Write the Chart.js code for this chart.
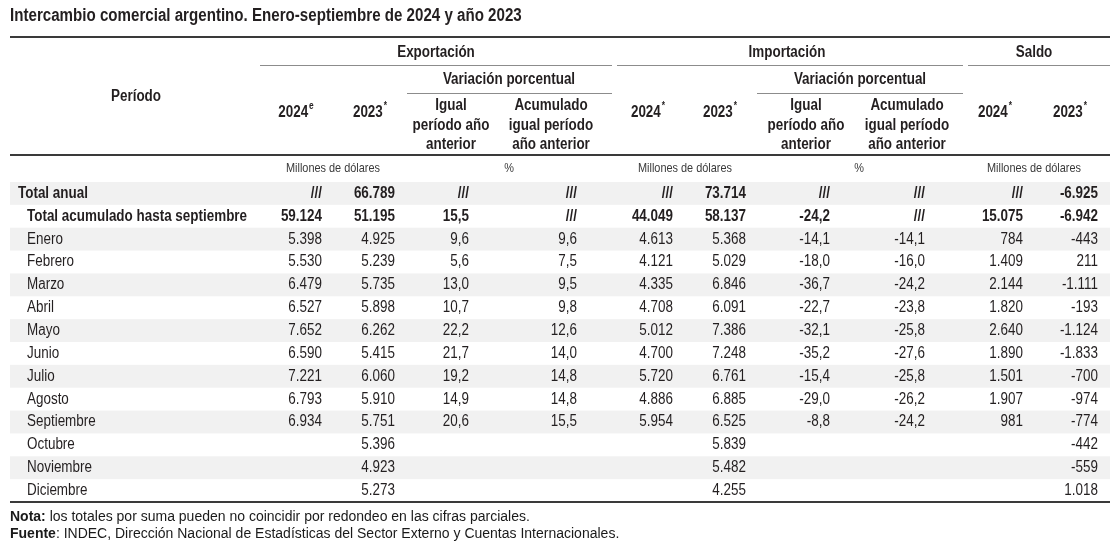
<!DOCTYPE html>
<html lang="es">
<head>
<meta charset="utf-8">
<title>Intercambio comercial argentino</title>
<script src="https://cdn.jsdelivr.net/npm/chart.js@4.4.1/dist/chart.umd.min.js"></script>
<style>
  html, body { margin: 0; padding: 0; background: #fff; }
  #wrap { width: 1112px; height: 547px; }
</style>
</head>
<body>
<div id="wrap"><canvas id="tabla" width="1112" height="547"></canvas></div>
<script>
// Datos del cuadro (millones de dólares y variaciones %)
const periods = ['Total anual', 'Total acumulado hasta septiembre', 'Enero', 'Febrero', 'Marzo', 'Abril',
  'Mayo', 'Junio', 'Julio', 'Agosto', 'Septiembre', 'Octubre', 'Noviembre', 'Diciembre'];

const expo2024 = ['///', 59124, 5398, 5530, 6479, 6527, 7652, 6590, 7221, 6793, 6934, null, null, null];
const expo2023 = [66789, 51195, 4925, 5239, 5735, 5898, 6262, 5415, 6060, 5910, 5751, 5396, 4923, 5273];
const expoVarIgual = ['///', 15.5, 9.6, 5.6, 13.0, 10.7, 22.2, 21.7, 19.2, 14.9, 20.6, null, null, null];
const expoVarAcum = ['///', '///', 9.6, 7.5, 9.5, 9.8, 12.6, 14.0, 14.8, 14.8, 15.5, null, null, null];

const impo2024 = ['///', 44049, 4613, 4121, 4335, 4708, 5012, 4700, 5720, 4886, 5954, null, null, null];
const impo2023 = [73714, 58137, 5368, 5029, 6846, 6091, 7386, 7248, 6761, 6885, 6525, 5839, 5482, 4255];
const impoVarIgual = ['///', -24.2, -14.1, -18.0, -36.7, -22.7, -32.1, -35.2, -15.4, -29.0, -8.8, null, null, null];
const impoVarAcum = ['///', '///', -14.1, -16.0, -24.2, -23.8, -25.8, -27.6, -25.8, -26.2, -24.2, null, null, null];

const saldo2024 = ['///', 15075, 784, 1409, 2144, 1820, 2640, 1890, 1501, 1907, 981, null, null, null];
const saldo2023 = [-6925, -6942, -443, 211, -1111, -193, -1124, -1833, -700, -974, -774, -442, -559, 1018];

const columns = [expo2024, expo2023, expoVarIgual, expoVarAcum, impo2024, impo2023,
  impoVarIgual, impoVarAcum, saldo2024, saldo2023];
const colDecimals = [0, 0, 1, 1, 0, 0, 1, 1, 0, 0];

// layout del cuadro (px)
const colRight = [322, 395, 469, 577, 673, 746, 830, 925, 1023, 1098];
const TABLE_L = 10, TABLE_R = 1110;

// fuente "angosta": Liberation Sans comprimida horizontalmente
const FONT = '"Liberation Sans", Arial, sans-serif';
const SX = 0.84;
const INK = '#231f20';

function fmt(v, dec) {
  if (typeof v === 'string') return v;
  if (dec) return v.toFixed(dec).replace('.', ',');
  const s = String(Math.abs(v)).replace(/\B(?=(\d{3})+(?!\d))/g, '.');
  return (v < 0 ? '-' : '') + s;
}

function narrowWidth(ctx, txt, font) {
  ctx.font = font;
  return ctx.measureText(txt).width * SX;
}

// dibuja texto comprimido con alineación left / center / right
function narrowText(ctx, txt, x, y, align, font) {
  const w = narrowWidth(ctx, txt, font);
  let x0 = x;
  if (align === 'center') x0 = x - w / 2;
  if (align === 'right') x0 = x - w;
  ctx.save();
  ctx.font = font;
  ctx.textAlign = 'left';
  ctx.translate(x0, y);
  ctx.scale(SX, 1);
  ctx.fillText(txt, 0, 0);
  ctx.restore();
}

// año con superíndice, centrado en x
function yearLabel(ctx, txt, sup, x, y) {
  const f1 = 'bold 16px ' + FONT, f2 = 'bold 10px ' + FONT;
  const w = narrowWidth(ctx, txt, f1);
  const ws = narrowWidth(ctx, sup, f2);
  const x0 = x - (w + ws + 1) / 2;
  narrowText(ctx, txt, x0, y, 'left', f1);
  narrowText(ctx, sup, x0 + w + 1, y - 7, 'left', f2);
}

function hLine(ctx, x1, x2, y, w, color) {
  ctx.beginPath();
  ctx.strokeStyle = color;
  ctx.lineWidth = w;
  ctx.moveTo(x1, y);
  ctx.lineTo(x2, y);
  ctx.stroke();
}

const tablePlugin = {
  id: 'tablePlugin',
  beforeDraw(chart) {
    const ctx = chart.ctx;
    const yScale = chart.scales.y;
    const band = yScale.getPixelForValue(1) - yScale.getPixelForValue(0);
    ctx.save();
    ctx.fillStyle = '#fff';
    ctx.fillRect(0, 0, chart.width, chart.height);
    // filas sombreadas alternadas
    ctx.fillStyle = '#f1f1f1';
    periods.forEach((p, i) => {
      if (i % 2 === 0) {
        const yc = yScale.getPixelForValue(i);
        ctx.fillRect(TABLE_L, yc - band / 2, TABLE_R - TABLE_L, band);
      }
    });
    ctx.restore();
  },
  afterDraw(chart) {
    const ctx = chart.ctx;
    const yScale = chart.scales.y;
    const area = chart.chartArea;
    ctx.save();
    ctx.fillStyle = INK;
    ctx.textBaseline = 'middle';

    // título
    narrowText(ctx, 'Intercambio comercial argentino. Enero-septiembre de 2024 y año 2023',
      TABLE_L, 16, 'left', 'bold 18px ' + FONT);

    // líneas del encabezado
    hLine(ctx, TABLE_L, TABLE_R, 37, 2, '#3a3a3a');
    hLine(ctx, 260, 612, 65.5, 1.2, '#8c8c8c');
    hLine(ctx, 617, 963, 65.5, 1.2, '#8c8c8c');
    hLine(ctx, 968, TABLE_R, 65.5, 1.2, '#8c8c8c');
    hLine(ctx, 407, 612, 93.5, 1.2, '#8c8c8c');
    hLine(ctx, 757, 963, 93.5, 1.2, '#8c8c8c');
    hLine(ctx, TABLE_L, TABLE_R, 155, 2, '#3a3a3a');
    hLine(ctx, TABLE_L, TABLE_R, area.bottom, 2, '#3a3a3a');

    // encabezados
    const hb = 'bold 16px ' + FONT;
    narrowText(ctx, 'Período', 136, 97, 'center', hb);
    narrowText(ctx, 'Exportación', 436, 53, 'center', hb);
    narrowText(ctx, 'Importación', 787, 53, 'center', hb);
    narrowText(ctx, 'Saldo', 1034, 53, 'center', hb);
    narrowText(ctx, 'Variación porcentual', 509, 80, 'center', hb);
    narrowText(ctx, 'Variación porcentual', 860, 80, 'center', hb);

    const sub1 = ['Igual', 'período año', 'anterior'];
    const sub2 = ['Acumulado', 'igual período', 'año anterior'];
    const subY = [106, 126, 145];
    [[sub1, 451], [sub2, 551], [sub1, 806], [sub2, 907]].forEach(([lines, x]) => {
      lines.forEach((t, k) => narrowText(ctx, t, x, subY[k], 'center', hb));
    });

    yearLabel(ctx, '2024', 'e', 296, 113);
    yearLabel(ctx, '2023', '*', 370, 113);
    yearLabel(ctx, '2024', '*', 648, 113);
    yearLabel(ctx, '2023', '*', 720, 113);
    yearLabel(ctx, '2024', '*', 995, 113);
    yearLabel(ctx, '2023', '*', 1070, 113);

    // unidades
    ctx.fillStyle = '#3a3a3a';
    const fu = '13px ' + FONT;
    narrowText(ctx, 'Millones de dólares', 333, 168, 'center', fu);
    narrowText(ctx, '%', 509, 168, 'center', fu);
    narrowText(ctx, 'Millones de dólares', 685, 168, 'center', fu);
    narrowText(ctx, '%', 859, 168, 'center', fu);
    narrowText(ctx, 'Millones de dólares', 1034, 168, 'center', fu);

    // rótulos de filas
    ctx.fillStyle = INK;
    periods.forEach((p, i) => {
      const f = (i < 2 ? 'bold ' : '') + '16px ' + FONT;
      narrowText(ctx, p, i === 0 ? 18 : 27, yScale.getPixelForValue(i), 'left', f);
    });

    // celdas: posición tomada de los elementos del gráfico
    chart.data.datasets.forEach((ds, c) => {
      const meta = chart.getDatasetMeta(c);
      meta.data.forEach((el, k) => {
        const d = ds.data[k];
        const f = (d.row < 2 ? 'bold ' : '') + '16px ' + FONT;
        narrowText(ctx, fmt(d.v, colDecimals[c]), el.x, el.y, 'right', f);
      });
    });

    // notas
    ctx.textAlign = 'left';
    ctx.fillStyle = '#1a1a1a';
    const notes = [
      ['Nota:', ' los totales por suma pueden no coincidir por redondeo en las cifras parciales.', 517],
      ['Fuente', ': INDEC, Dirección Nacional de Estadísticas del Sector Externo y Cuentas Internacionales.', 534]
    ];
    notes.forEach(([b, r, y]) => {
      ctx.font = 'bold 14px ' + FONT;
      ctx.fillText(b, TABLE_L, y);
      const w = ctx.measureText(b).width;
      ctx.font = '14px ' + FONT;
      ctx.fillText(r, TABLE_L + w, y);
    });
    ctx.restore();
  }
};

const datasets = columns.map((col, c) => ({
  label: 'col' + c,
  data: col.map((v, i) => ({ x: colRight[c], y: periods[i], v: v, row: i })).filter(d => d.v !== null),
  pointRadius: 0,
  pointHoverRadius: 0,
  showLine: false
}));

new Chart(document.getElementById('tabla'), {
  type: 'scatter',
  data: { datasets: datasets },
  options: {
    responsive: false,
    animation: false,
    events: [],
    layout: { padding: { top: 182, bottom: 45, left: 0, right: 0 } },
    scales: {
      x: { type: 'linear', min: 0, max: 1112, display: false },
      y: { type: 'category', labels: periods, offset: true, display: false }
    },
    plugins: {
      legend: { display: false },
      tooltip: { enabled: false }
    }
  },
  plugins: [tablePlugin]
});
</script>
</body>
</html>
